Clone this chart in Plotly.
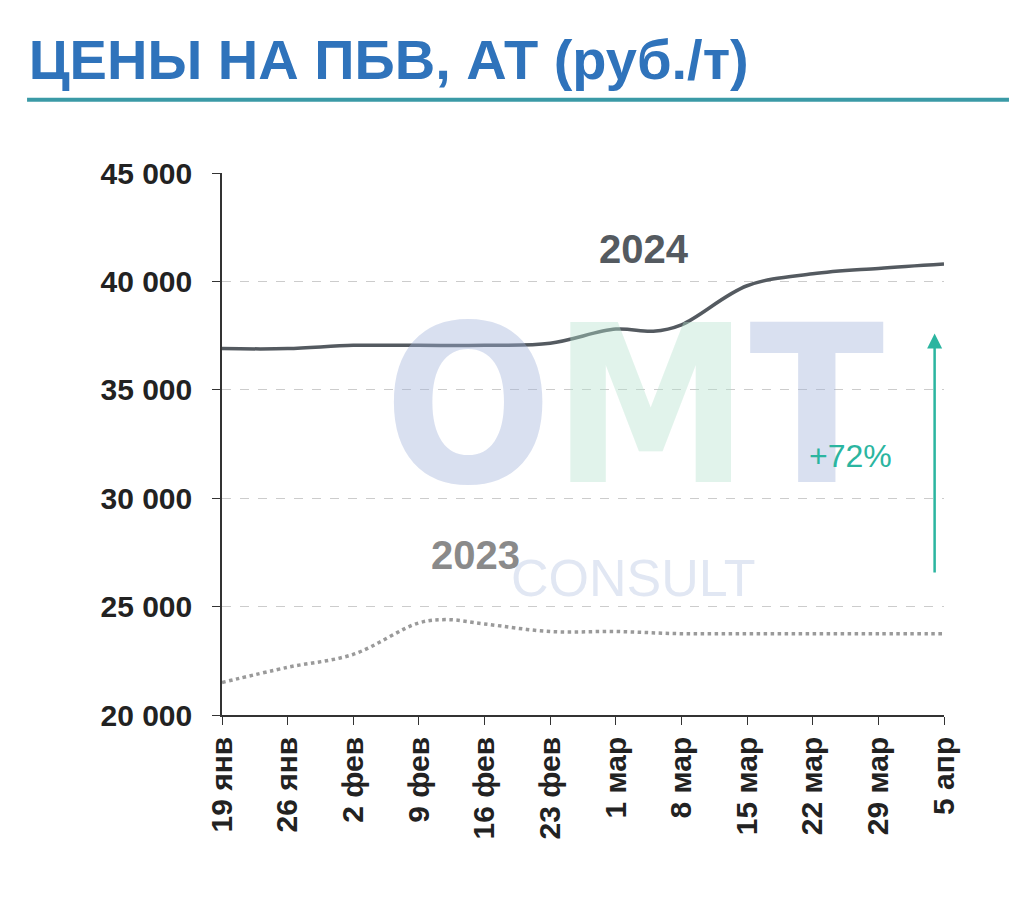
import plotly.graph_objects as go

# weekly dates (2024 calendar) with a couple of intermediate points
tick_dates = ["2024-01-19", "2024-01-26", "2024-02-02", "2024-02-09", "2024-02-16", "2024-02-23",
              "2024-03-01", "2024-03-08", "2024-03-15", "2024-03-22", "2024-03-29", "2024-04-05"]
tick_labels = ["19 янв", "26 янв", "2 фев", "9 фев", "16 фев", "23 фев",
               "1 мар", "8 мар", "15 мар", "22 мар", "29 мар", "5 апр"]

dates_2024 = ["2024-01-19", "2024-01-26", "2024-02-02", "2024-02-09", "2024-02-16", "2024-02-23",
              "2024-03-01", "2024-03-05", "2024-03-08", "2024-03-15", "2024-03-22", "2024-03-29", "2024-04-05"]
price_2024 = [36900, 36900, 37050, 37050, 37050, 37150, 37800, 37700, 38000, 39800, 40350, 40600, 40800]

dates_2023 = ["2024-01-19", "2024-01-26", "2024-02-02", "2024-02-09", "2024-02-12", "2024-02-16",
              "2024-02-23", "2024-03-01", "2024-03-08", "2024-03-15", "2024-03-22", "2024-03-29", "2024-04-05"]
price_2023 = [21500, 22200, 22800, 24250, 24400, 24200, 23850, 23850, 23750, 23750, 23750, 23750, 23750]

y_ticks = [20000, 25000, 30000, 35000, 40000, 45000]
y_labels = ["20 000", "25 000", "30 000", "35 000", "40 000", "45 000"]

fig = go.Figure()

# watermark
fig.add_annotation(x=0.57, y=0.57, xref="paper", yref="paper",
                   text="<b><span style='color:rgba(160,178,218,0.4)'>O</span>"
                        "<span style='color:rgba(180,225,205,0.4)'>M</span>"
                        "<span style='color:rgba(160,178,218,0.4)'>T</span></b>",
                   showarrow=False, font=dict(family="DejaVu Sans Condensed", size=220))
fig.add_annotation(x=0.57, y=0.195, xref="paper", yref="paper", text="CONSULT", showarrow=False,
                   font=dict(family="Liberation Sans", size=52, color="rgba(170,185,220,0.35)"))

fig.add_trace(go.Scatter(x=dates_2023, y=price_2023, mode="lines",
                         line=dict(color="#9a9a9a", width=3.5, dash="dot", shape="spline")))
fig.add_trace(go.Scatter(x=dates_2024, y=price_2024, mode="lines",
                         line=dict(color="#545a60", width=3.5, shape="spline")))

fig.add_annotation(x="2024-03-04", y=41500, text="<b>2024</b>", showarrow=False,
                   font=dict(family="Liberation Sans", size=40, color="#545a60"))
fig.add_annotation(x="2024-02-15", y=27400, text="<b>2023</b>", showarrow=False,
                   font=dict(family="Liberation Sans", size=40, color="#8a8a8a"))
fig.add_annotation(x="2024-03-26", y=31950, text="+72%", showarrow=False,
                   font=dict(family="Liberation Sans", size=32, color="#2bb5a0"))
fig.add_annotation(x="2024-04-04", y=37600, ax="2024-04-04", ay=26500, axref="x", ayref="y",
                   xref="x", yref="y", text="", showarrow=True, arrowhead=2, arrowsize=1.2,
                   arrowwidth=2.5, arrowcolor="#2bb5a0")

fig.update_layout(
    width=1035, height=922, showlegend=False,
    plot_bgcolor="rgba(0,0,0,0)", paper_bgcolor="white",
    margin=dict(l=214, r=99, t=165, b=215, autoexpand=False),
    title=dict(text="<b>ЦЕНЫ НА ПБВ, АТ (руб./т)</b>", x=0.02, xanchor="left", y=0.965, yanchor="top",
               font=dict(family="Liberation Sans", size=56, color="#2f73bb")),
    shapes=[dict(type="line", xref="paper", yref="paper", x0=-0.27, x1=1.09, y0=1.135, y1=1.135,
                 line=dict(color="#3a9aa6", width=4))],
)
fig.update_xaxes(type="date", range=["2024-01-19", "2024-04-05"], tickvals=tick_dates,
                 ticktext=[f"<b>{t}</b>" for t in tick_labels], automargin=False,
                 tickangle=-90, showgrid=False, showline=True, linecolor="#333", linewidth=1.5,
                 ticks="outside", ticklen=8, tickcolor="#333",
                 tickfont=dict(family="Liberation Sans", size=30, color="#222"))
fig.update_yaxes(range=[20000, 45000], tickvals=y_ticks, ticktext=[f"<b>{t}</b>" for t in y_labels],
                 showgrid=True, gridcolor="#cccccc", griddash="dash", gridwidth=1, automargin=False,
                 showline=True, linecolor="#333", linewidth=1.5, ticks="outside", ticklen=8, tickcolor="#333",
                 ticklabelstandoff=14,
                 tickfont=dict(family="Liberation Sans", size=30, color="#222"), zeroline=False)

fig.write_html("out.html")
